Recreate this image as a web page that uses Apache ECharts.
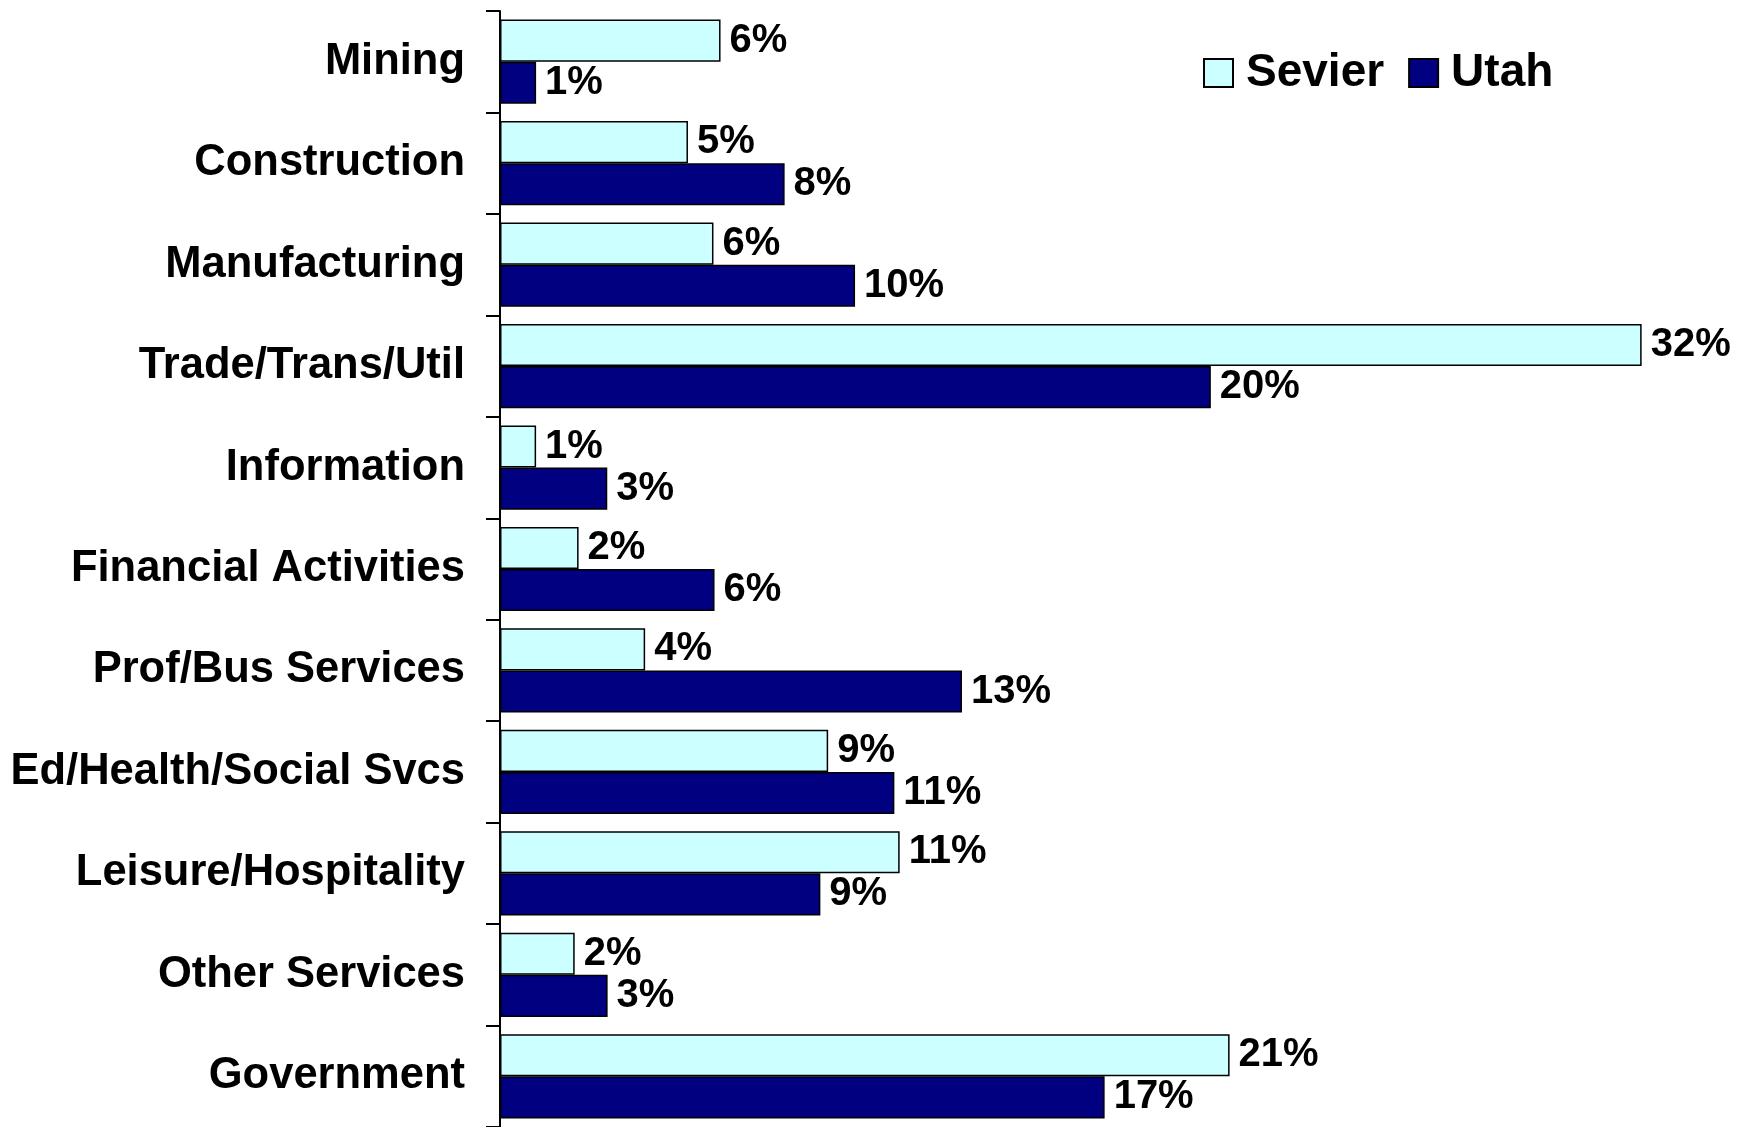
<!DOCTYPE html>
<html>
<head>
<meta charset="utf-8">
<script src="https://cdn.jsdelivr.net/npm/echarts@6/dist/echarts.min.js"></script>
<style>
  html, body { margin: 0; padding: 0; background: #fff; }
  #main { width: 1749px; height: 1127px; }
</style>
</head>
<body>
<div id="main"></div>
<script>
var categories = ['Mining', 'Construction', 'Manufacturing', 'Trade/Trans/Util', 'Information',
  'Financial Activities', 'Prof/Bus Services', 'Ed/Health/Social Svcs', 'Leisure/Hospitality',
  'Other Services', 'Government'];
// share of jobs, percent
var sevier = [6.23, 5.31, 6.03, 32.25, 1.02, 2.22, 4.10, 9.27, 11.29, 2.11, 20.61];
var utah = [1.02, 8.04, 10.03, 20.08, 3.03, 6.06, 13.05, 11.14, 9.05, 3.04, 17.08];

var FONT = '"Liberation Sans", Arial, sans-serif';

var chart = echarts.init(document.getElementById('main'));

function pctLabel(p) {
  return Math.round(p.value) + '%';
}

var option = {
  backgroundColor: '#fff',
  animation: false,
  legend: {
    left: 1203,
    top: 50,
    padding: 0,
    icon: 'rect',
    itemWidth: 29,
    itemHeight: 28,
    itemGap: 24,
    textStyle: {
      fontFamily: FONT,
      fontWeight: 'bold',
      fontSize: 46,
      color: '#000',
      padding: [0, 0, 0, 8]
    },
    data: ['Sevier', 'Utah']
  },
  grid: {
    left: 500,
    top: 11,
    width: 1239,
    height: 1122
  },
  xAxis: {
    type: 'value',
    min: 0,
    max: 35,
    show: false
  },
  yAxis: {
    type: 'category',
    inverse: true,
    data: categories,
    axisLine: { show: true, lineStyle: { color: '#000', width: 2 } },
    axisTick: { show: true, length: 14, lineStyle: { color: '#000', width: 2 } },
    axisLabel: {
      margin: 35,
      fontFamily: FONT,
      fontWeight: 'bold',
      fontSize: 43.5,
      color: '#000'
    },
    splitLine: { show: false }
  },
  series: [
    {
      name: 'Sevier',
      type: 'bar',
      data: sevier,
      barGap: '0%',
      barCategoryGap: '17%',
      itemStyle: { color: '#CCFFFF', borderColor: '#000', borderWidth: 1.5 },
      label: {
        show: true,
        position: 'right',
        distance: 9,
        formatter: pctLabel,
        fontFamily: FONT,
        fontWeight: 'bold',
        fontSize: 40,
        color: '#000'
      }
    },
    {
      name: 'Utah',
      type: 'bar',
      data: utah,
      barGap: '0%',
      barCategoryGap: '17%',
      itemStyle: { color: '#000080', borderColor: '#000', borderWidth: 1.5 },
      label: {
        show: true,
        position: 'right',
        distance: 9,
        formatter: pctLabel,
        fontFamily: FONT,
        fontWeight: 'bold',
        fontSize: 40,
        color: '#000'
      }
    }
  ]
};

chart.setOption(option);
</script>
</body>
</html>
